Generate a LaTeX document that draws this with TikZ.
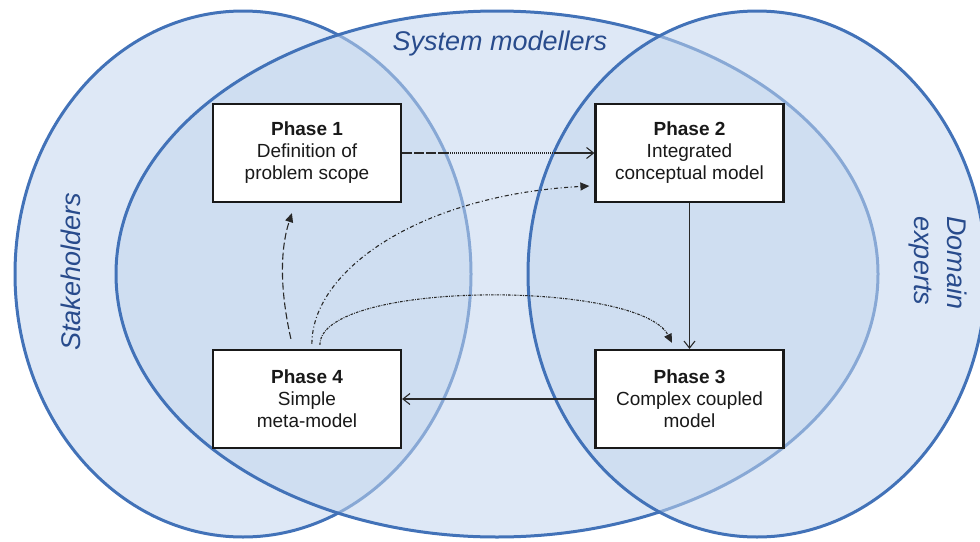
\documentclass[tikz,border=0pt]{standalone}
\usepackage{fontspec}
\setmainfont{Liberation Sans}
\usetikzlibrary{arrows.meta,calc}
\definecolor{ellline}{RGB}{66,114,184}
\definecolor{ellfill}{RGB}{195,214,238}
\definecolor{lbl}{RGB}{40,75,140}
\definecolor{arr}{RGB}{40,40,40}
\begin{document}
\begin{tikzpicture}[x=1pt,y=-1pt,
  circleset/.style={fill=ellfill, fill opacity=0.55, draw=ellline, line width=3pt},
  phase/.style={draw=black!90, fill=white, line width=2.2pt, minimum width=188pt, minimum height=98pt, align=center, font=\fontsize{19}{22}\selectfont, inner sep=0pt, text=black!90},
  grouplabel/.style={text=lbl, font=\fontsize{27}{33}\selectfont\itshape, inner sep=0pt},
  flow/.style={draw=arr, line width=1.1pt},
  opentip/.style={-{Straight Barb[length=7pt,width=11pt]}},
  filledtip/.style={-{Triangle[length=9pt,width=8pt]}}
]
\useasboundingbox (0,0) rectangle (980,541);
% sets
\path[circleset] (243,274) ellipse [x radius=228pt, y radius=263pt];
\path[circleset] (497,274) ellipse [x radius=381pt, y radius=263pt];
\path[circleset] (757,274) ellipse [x radius=229pt, y radius=263pt];
% labels
\node[grouplabel] (sm) at (500,44) {System modellers};
\node[grouplabel, rotate=90] (sh) at (71,272) {Stakeholders};
\node[grouplabel, rotate=-90, align=left] (de) at (938,263) {Domain\\experts};
% phases
\node[phase] (p1) at (307,153) {\textbf{Phase 1}\\Definition of\\problem scope};
\node[phase] (p2) at (689.5,153) {\textbf{Phase 2}\\Integrated\\conceptual model};
\node[phase] (p3) at (689.5,399) {\textbf{Phase 3}\\Complex coupled\\model};
\node[phase] (p4) at (307,399) {\textbf{Phase 4}\\Simple\\meta-model};
% phase 1 -> phase 2
\coordinate (a1) at ($(p1.east)!0.24!(p2.west)$);
\coordinate (a2) at ($(p1.east)!0.79!(p2.west)$);
\draw[flow, dash pattern=on 10pt off 2pt] (p1.east) -- (a1);
\draw[flow, dash pattern=on 1pt off 1pt] (a1) -- (a2);
\draw[flow, opentip] (a2) -- (p2.west);
% phase 2 -> phase 3 -> phase 4
\draw[flow, opentip] (p2.south) -- (p3.north);
\draw[flow, opentip] (p3.west) -- (p4.east);
% feedback arrows from phase 4
\draw[flow, dash pattern=on 7pt off 3pt, filledtip]
  ($(p4.north west)+(79,-10)$) .. controls ($(p4.north west)+(68,-59)$) and ($(p1.south west)+(68,47)$) .. ($(p1.south west)+(80,10)$);
\draw[flow, dash pattern=on 4pt off 2.5pt on 1pt off 2.5pt, filledtip]
  ($(p4.north west)+(100,-5)$) .. controls ($(p4.north west)+(100,-79)$) and ($(p2.west)+(-174,42)$) .. ($(p2.west)+(-5,33)$);
\draw[flow, dash pattern=on 2.5pt off 1.2pt on 0.8pt off 1.2pt, filledtip]
  ($(p4.north west)+(108,-4)$) .. controls ($(p4.north west)+(108,-69)$) and ($(p3.north)+(-49.5,-69)$) .. ($(p3.north)+(-17.5,-6)$);
\end{tikzpicture}
\end{document}
